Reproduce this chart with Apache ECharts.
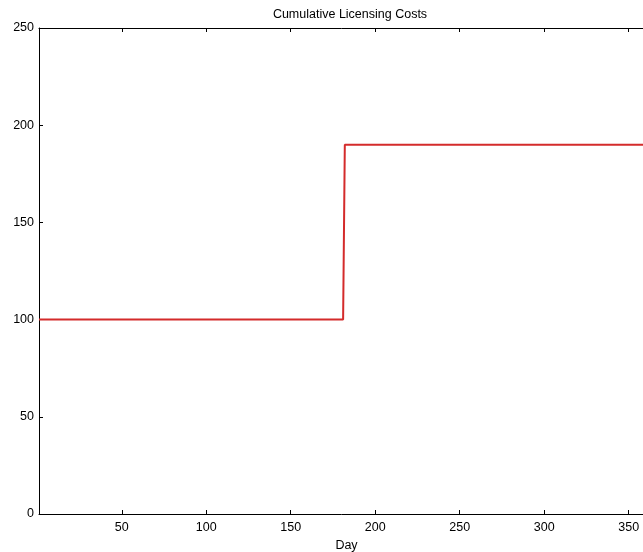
<!DOCTYPE html>
<html><head><meta charset="utf-8">
<script src="https://cdn.jsdelivr.net/npm/echarts@6/dist/echarts.min.js"></script>
<style>html,body{margin:0;padding:0;background:#fff}#c{width:643px;height:552px}</style>
</head><body><div id="c"></div>
<script>
var days = [1, 181, 182, 365];
var costs = [100, 100, 190, 190];
var xTicks = [50, 100, 150, 200, 250, 300, 350];
var yTicks = [0, 50, 100, 150, 200, 250];
var titleText = 'Cumulative Licensing Costs';
var xName = 'Day';

var chart = echarts.init(document.getElementById('c'));
var font = 'Liberation Sans, Arial, sans-serif';
var fs = 12.5;
var axisCommon = {
  min: 1, max: 365,
  axisLine: {show: true, onZero: false, lineStyle: {color: '#000', width: 1}},
  axisTick: {show: true, inside: true, length: 4, lineStyle: {color: '#000'},
    customValues: xTicks},
  splitLine: {show: false}
};
chart.setOption({
  animation: false,
  title: {text: titleText, left: 345, top: 3, textAlign: 'center',
    textStyle: {fontFamily: font, fontSize: fs, fontWeight: 'normal', color: '#000'}},
  grid: {left: 39, top: 28, width: 615, bottom: 38, containLabel: false, outerBoundsMode: 'none'},
  xAxis: [
    Object.assign({}, axisCommon, {type: 'value', position: 'bottom',
      name: xName, nameLocation: 'middle', nameGap: 19,
      nameTextStyle: {fontFamily: font, fontSize: fs, color: '#000'},
      axisLabel: {customValues: xTicks, fontFamily: font, fontSize: fs, color: '#000', margin: 7}}),
    Object.assign({}, axisCommon, {type: 'value', position: 'top',
      axisLabel: {show: false}})
  ],
  yAxis: {
    type: 'value', min: 0, max: 250, interval: 50,
    axisLine: {show: true, lineStyle: {color: '#000', width: 1}},
    axisTick: {show: true, inside: true, length: 4, lineStyle: {color: '#000'}},
    axisLabel: {fontFamily: font, fontSize: fs, color: '#000', margin: 5},
    splitLine: {show: false}
  },
  series: [{
    type: 'line', xAxisIndex: 0, symbol: 'none',
    lineStyle: {color: '#d42b2b', width: 2},
    data: days.map(function (d, i) { return [d, costs[i]]; })
  }]
});
</script></body></html>
